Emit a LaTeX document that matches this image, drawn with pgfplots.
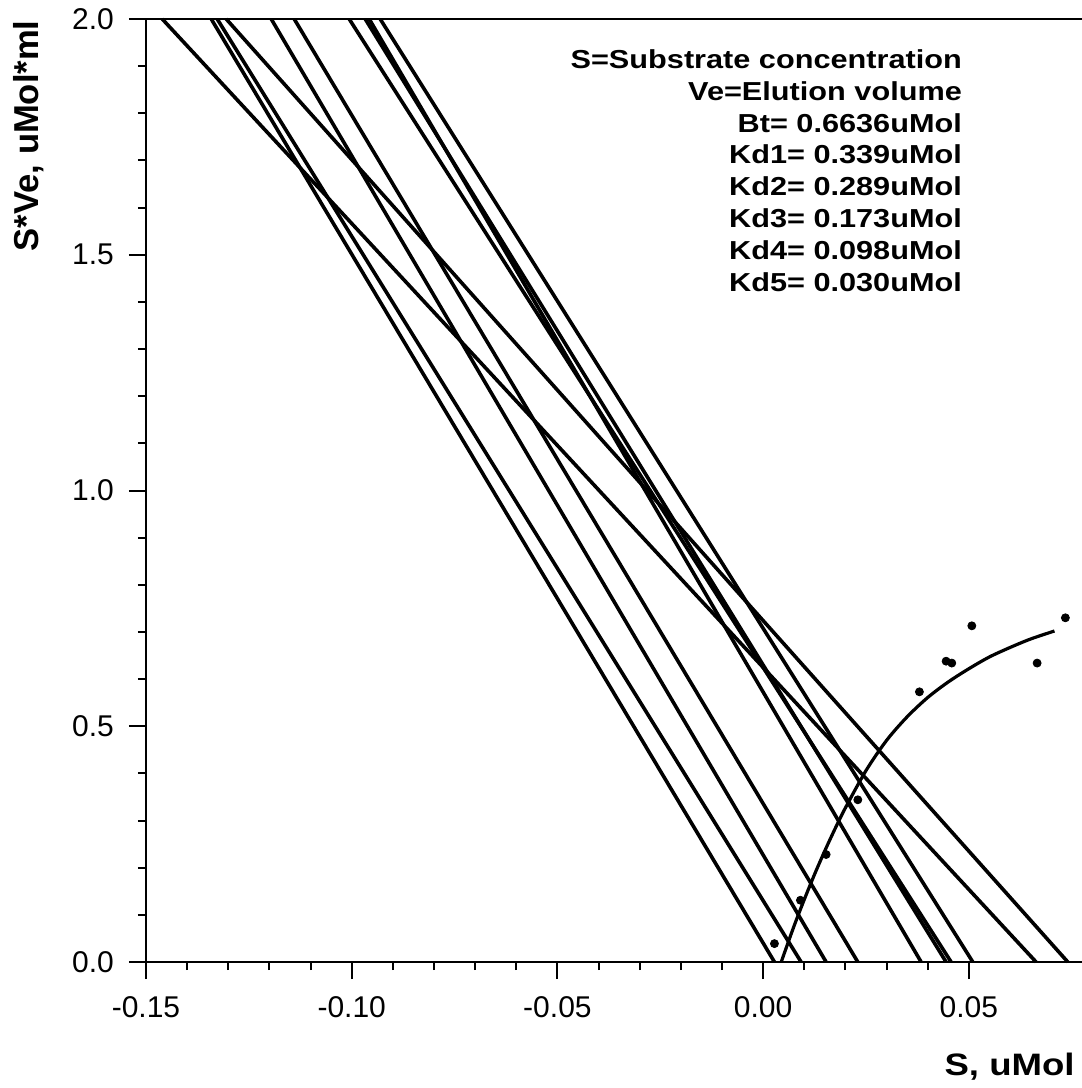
\documentclass[border=0pt]{standalone}
\usepackage{fontspec}
\setmainfont{Liberation Sans}
\newfontfamily\widefont[FakeStretch=1.18]{Liberation Sans}
\usepackage{pgfplots}
\pgfplotsset{compat=1.18}
\begin{document}
\begin{tikzpicture}
\begin{axis}[
  width=468pt, height=471.5pt, scale only axis,
  xmin=-0.15, xmax=0.0775, ymin=0, ymax=2,
  axis x line*=bottom, axis y line*=left,
  axis line style={line width=1.3pt},
  xtick={-0.15,-0.1,-0.05,0,0.05},
  xticklabels={-0.15,-0.10,-0.05,0.00,0.05},
  ytick={0,0.5,1,1.5,2},
  yticklabels={0.0,0.5,1.0,1.5,2.0},
  minor x tick num=4, minor y tick num=4,
  tick align=outside,
  major tick length=8.5pt, minor tick length=4pt,
  tick style={black, line width=1pt},
  tick label style={font=\fontsize{15}{18}\selectfont},
  xticklabel style={yshift=-5pt},
  yticklabel style={xshift=-4pt},
  clip=false,
]
% ten lines: (x at y=2, 2) -- (x at y=0, 0)
\addplot[black, line width=1.8pt] coordinates {(-0.13414,2) (0.00275,0)};
\addplot[black, line width=1.8pt] coordinates {(-0.13269,2) (0.00923,0)};
\addplot[black, line width=1.8pt] coordinates {(-0.11956,2) (0.01531,0)};
\addplot[black, line width=1.8pt] coordinates {(-0.11397,2) (0.02301,0)};
\addplot[black, line width=1.8pt] coordinates {(-0.09575,2) (0.03840,0)};
\addplot[black, line width=1.8pt] coordinates {(-0.09672,2) (0.04447,0)};
\addplot[black, line width=1.8pt] coordinates {(-0.10061,2) (0.04569,0)};
\addplot[black, line width=1.8pt] coordinates {(-0.09308,2) (0.05096,0)};
\addplot[black, line width=1.8pt] coordinates {(-0.14605,2) (0.06634,0)};
\addplot[black, line width=1.8pt] coordinates {(-0.13050,2) (0.07405,0)};
% fitted curve
\addplot[black, line width=1.6pt, smooth] coordinates {
 (0.0044,0.0) (0.005,0.015) (0.0075,0.076) (0.010,0.1325) (0.0125,0.186)
 (0.015,0.236) (0.0175,0.283) (0.020,0.327) (0.025,0.406) (0.030,0.470)
 (0.035,0.520) (0.040,0.561) (0.045,0.594) (0.050,0.622) (0.055,0.647)
 (0.060,0.667) (0.065,0.685) (0.0708,0.702)};
% data points
\addplot[only marks, mark=*, mark size=2pt, black] coordinates {
 (0.00275,0.039) (0.00906,0.131) (0.01531,0.228) (0.02301,0.344) (0.03798,0.573)
 (0.04447,0.638) (0.04585,0.634) (0.05072,0.713) (0.06659,0.634) (0.07346,0.730)};
\draw[line width=1.3pt] (rel axis cs:0,1) -- (rel axis cs:1,1);
\node[anchor=north east, align=right, inner sep=0,
      font=\widefont\bfseries\fontsize{13}{15.95}\selectfont]
  at (axis cs:0.0484,1.9364)
  {S=Substrate concentration\\Ve=Elution volume\\Bt= 0.6636uMol\\Kd1= 0.339uMol\\Kd2= 0.289uMol\\Kd3= 0.173uMol\\Kd4= 0.098uMol\\Kd5= 0.030uMol};
\node[rotate=90, anchor=north east, inner sep=0, font=\bfseries\fontsize{17.3}{20}\selectfont]
  at ([xshift=-66.5pt,yshift=-0.5pt]rel axis cs:0,1) {S*Ve, uMol*ml};
\node[anchor=north east, inner sep=0, font=\widefont\bfseries\fontsize{15.5}{18}\selectfont]
  at ([xshift=-3.5pt,yshift=-45.5pt]rel axis cs:1,0) {S, uMol};
\coordinate (BL) at (rel axis cs:0,0);
\coordinate (TR) at (rel axis cs:1,1);
\end{axis}
\pgfresetboundingbox
\path[use as bounding box] ([xshift=-73pt,yshift=-63pt]BL) rectangle ([yshift=9.5pt]TR);
\end{tikzpicture}
\end{document}
